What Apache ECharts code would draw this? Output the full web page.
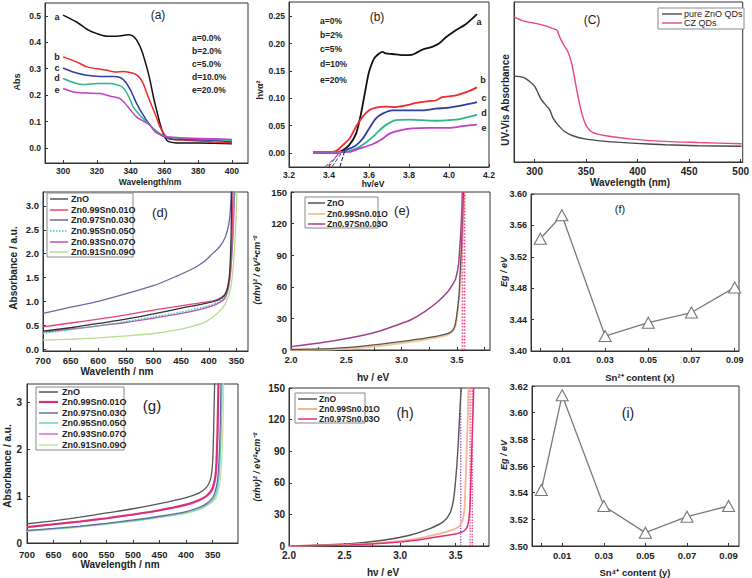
<!DOCTYPE html>
<html><head><meta charset="utf-8">
<script src="https://cdn.jsdelivr.net/npm/echarts@6/dist/echarts.min.js"></script>
<style>html,body{margin:0;padding:0;background:#fff}#c{width:752px;height:578px}</style>
</head><body><div id="c"></div>
<script>
// ---------- Panel (a): Abs vs wavelength (nm) ----------
const aCurveA = [[300,0.503],[308,0.477],[315,0.446],[320,0.433],[326,0.423],[332,0.423],[337,0.428],[339,0.429],[341.6,0.423],[343.6,0.408],[346.5,0.37],[349.5,0.307],[351.5,0.256],[353.5,0.193],[355.4,0.143],[357.4,0.092],[359.4,0.054],[361.4,0.029],[363,0.023],[367,0.019],[381,0.019],[390,0.018],[400,0.016]];
const aCurveB = [[300,0.345],[308,0.326],[314,0.307],[320,0.300],[326,0.294],[331,0.288],[336,0.290],[341,0.284],[344,0.275],[347,0.25],[350,0.2],[352.5,0.16],[355,0.12],[357.4,0.08],[360.4,0.048],[363,0.034],[373,0.029],[389,0.023],[400,0.019]];
const aCurveC = [[300,0.303],[306,0.288],[314,0.275],[322,0.271],[330,0.271],[334,0.266],[337,0.25],[340,0.218],[343.6,0.168],[347.5,0.124],[351.5,0.086],[355.4,0.061],[359.4,0.044],[363,0.035],[373,0.032],[389,0.029],[400,0.023]];
const aCurveD = [[300,0.263],[307,0.246],[312,0.240],[320,0.244],[328,0.244],[333,0.237],[336,0.225],[339,0.193],[341.6,0.155],[345.5,0.124],[349.5,0.098],[353.5,0.073],[357.4,0.054],[361.4,0.042],[367,0.038],[381,0.035],[400,0.029]];
const aCurveE = [[300,0.225],[306,0.212],[314,0.208],[322,0.206],[328,0.196],[333,0.189],[336,0.174],[340,0.143],[343.6,0.117],[347.5,0.102],[351.5,0.086],[354.5,0.061],[357.4,0.051],[361.4,0.042],[371,0.038],[389,0.035],[400,0.032]];
const aXTicks = [300,320,340,360,380,400];
const aYTicks = [0,0.1,0.2,0.3,0.4,0.5];
const aLegend = ['a=0.0%','b=2.0%','c=5.0%','d=10.0%','e=20.0%'];

// ---------- Panel (b): hvα² vs hv (eV) ----------
const bCurveA = [[3.32,0.001],[3.444,0.001],[3.469,0.005],[3.50,0.014],[3.535,0.035],[3.56,0.072],[3.585,0.121],[3.60,0.148],[3.626,0.173],[3.651,0.182],[3.668,0.185],[3.684,0.182],[3.717,0.181],[3.767,0.179],[3.817,0.180],[3.867,0.189],[3.916,0.194],[3.95,0.200],[3.983,0.211],[4.032,0.224],[4.082,0.235],[4.14,0.254]];
const bCurveB = [[3.32,0.002],[3.42,0.002],[3.444,0.006],[3.477,0.017],[3.502,0.026],[3.535,0.048],[3.568,0.066],[3.601,0.078],[3.634,0.083],[3.684,0.085],[3.734,0.084],[3.784,0.087],[3.834,0.0915],[3.90,0.095],[3.933,0.096],[3.966,0.102],[4.03,0.105],[4.099,0.113],[4.14,0.120]];
const bCurveC = [[3.32,0.001],[3.45,0.001],[3.502,0.008],[3.535,0.014],[3.568,0.026],[3.601,0.045],[3.634,0.063],[3.668,0.072],[3.717,0.078],[3.784,0.078],[3.867,0.078],[3.933,0.081],[4.0,0.083],[4.066,0.087],[4.14,0.093]];
const bCurveD = [[3.32,0.001],[3.48,0.002],[3.535,0.008],[3.576,0.017],[3.618,0.029],[3.651,0.041],[3.684,0.051],[3.734,0.060],[3.80,0.061],[3.867,0.060],[3.933,0.059],[4.0,0.060],[4.066,0.063],[4.14,0.070]];
const bCurveE = [[3.32,0.002],[3.50,0.002],[3.552,0.008],[3.618,0.016],[3.668,0.026],[3.70,0.035],[3.75,0.041],[3.817,0.045],[3.90,0.046],[4.0,0.046],[4.066,0.049],[4.14,0.052]];
const bFitA = [[3.455,-0.025],[3.48,0.006]];
const bFitB = [[3.40,-0.025],[3.46,0.006]];
const bFitC = [[3.415,-0.025],[3.47,0.004]];
const bFitD = [[3.39,-0.025],[3.46,0.004]];
const bFitE = [[3.38,-0.025],[3.47,0.004]];
const bXTicks = [3.2,3.4,3.6,3.8,4.0,4.2];
const bYTicks = [0,0.05,0.10,0.15,0.20,0.25];
const bLegend = ['a=0%','b=2%','c=5%','d=10%','e=20%'];

// ---------- Panel (c): UV-Vis absorbance (arb.) ----------
const cPureZnO = [[280,53.7],[289,52.9],[295.5,50.2],[300.3,47.1],[303.5,42.9],[306.7,38.8],[311.5,35.1],[314.7,32.6],[317.9,27.4],[322.7,23.2],[329.1,19.1],[337.1,16.4],[349.9,14.3],[369.1,12.9],[394.7,11.8],[426.7,10.8],[458.7,10.2],[501,9.8]];
const cCZ = [[280,90.7],[289,88.2],[298.7,86.9],[308.3,85.5],[317.9,83.4],[321.7,82.4],[324.3,78.2],[327.5,74.1],[332.3,68.9],[335.5,62.7],[337.7,56.4],[340.3,47.1],[343.5,36.7],[346.7,28.4],[350.5,22.2],[356.3,18.5],[369.1,16.4],[394.7,14.3],[426.7,12.9],[458.7,12.2],[501,11.4]];
const cXTicks = [300,350,400,450,500];
const cNames = ['pure ZnO QDs','CZ QDs'];

// ---------- Panel (d): Absorbance vs wavelength ----------
const dZnO = [[700,0.38],[650,0.45],[600,0.54],[550,0.63],[500,0.74],[450,0.86],[410,0.95],[385,1.02],[370,1.15],[363,1.5],[360,2.2],[358.5,3.3]];
const dS01 = [[700,0.47],[650,0.55],[600,0.63],[550,0.72],[500,0.82],[450,0.91],[410,0.98],[385,1.04],[370,1.17],[363,1.45],[359,2.0],[357,2.8],[356,3.3]];
const dS03 = [[700,0.75],[650,0.88],[600,1.0],[550,1.16],[500,1.33],[460,1.52],[430,1.68],[410,1.82],[395,1.98],[380,2.15],[370,2.35],[364,2.6],[361,2.9],[359.5,3.3]];
const dS05 = [[700,0.33],[650,0.41],[600,0.49],[550,0.58],[500,0.68],[450,0.78],[410,0.88],[385,0.98],[370,1.12],[362,1.5],[357,2.3],[354,3.3]];
const dS07 = [[700,0.36],[650,0.42],[600,0.49],[550,0.56],[500,0.65],[450,0.75],[410,0.85],[385,0.95],[370,1.08],[362,1.45],[357,2.2],[353,3.3]];
const dS09 = [[700,0.19],[650,0.21],[600,0.24],[550,0.28],[500,0.33],[460,0.40],[430,0.48],[405,0.58],[385,0.75],[370,0.95],[360,1.3],[354,2.0],[350.5,2.8],[349,3.3]];
const dXTicks = [350,400,450,500,550,600,650,700];
const dYTicks = [0,0.5,1.0,1.5,2.0,2.5,3.0];
const sampleNames = ['ZnO','Zn0.99Sn0.01O','Zn0.97Sn0.03O','Zn0.95Sn0.05O','Zn0.93Sn0.07O','Zn0.91Sn0.09O'];

// ---------- Panel (e): (αhν)² vs hν ----------
const eZnO = [[2.0,0.6],[2.39,1.6],[2.69,4.1],[2.99,7.9],[3.24,11.7],[3.39,14.9],[3.45,17.4],[3.48,22.2],[3.50,33.3],[3.52,52.3],[3.53,74.5],[3.54,93.5],[3.55,119],[3.56,150]];
const eS01 = [[2.0,0.2],[2.39,0.6],[2.69,2.5],[2.99,6.3],[3.24,10.5],[3.39,13.6],[3.46,17.4],[3.49,23.8],[3.51,39.6],[3.53,61.8],[3.545,93.5],[3.56,125],[3.57,150]];
const eS03 = [[2.0,3.2],[2.24,6.3],[2.54,11.7],[2.78,17.4],[2.96,23.8],[3.08,28.5],[3.21,36.5],[3.33,46],[3.42,55.5],[3.46,61.8],[3.49,68],[3.515,80.8],[3.525,95],[3.535,110],[3.545,131.6],[3.55,150]];
const eFit1 = [[3.55,0],[3.55,150]];
const eFit2 = [[3.57,0],[3.57,150]];
const eXTicks = [2.0,2.5,3.0,3.5];
const eMinorTicks = [2.0,2.25,2.5,2.75,3.0,3.25,3.5,3.75];
const eYTicks = [0,30,60,90,120,150];

// ---------- Panel (f): Eg vs Sn2+ content ----------
const fContent = [0,0.01,0.03,0.05,0.07,0.09];
const fEg = [3.543,3.573,3.419,3.436,3.449,3.481];
const fXLabels = [0.01,0.03,0.05,0.07,0.09];
const fYTicks = [3.40,3.44,3.48,3.52,3.56,3.60];

// ---------- Panel (g): Absorbance vs wavelength ----------
const gZnO = [[700,0.41],[650,0.47],[600,0.55],[550,0.64],[500,0.73],[450,0.84],[400,0.97],[375,1.07],[362,1.18],[354,1.35],[350,1.7],[348,2.4],[346,3.44]];
const gS01 = [[700,0.34],[650,0.40],[600,0.46],[550,0.53],[500,0.61],[450,0.70],[400,0.82],[375,0.92],[360,1.02],[350,1.17],[344,1.5],[341,2.3],[339,3.44]];
const gS03 = [[700,0.27],[650,0.31],[600,0.36],[550,0.42],[500,0.49],[450,0.57],[400,0.67],[375,0.76],[360,0.85],[348,1.0],[340,1.4],[336,2.3],[334,3.44]];
const gS05 = [[700,0.26],[650,0.30],[600,0.35],[550,0.41],[500,0.47],[450,0.55],[400,0.65],[375,0.73],[360,0.82],[346,0.97],[338,1.4],[334,2.3],[332,3.44]];
const gS07 = [[700,0.33],[650,0.39],[600,0.45],[550,0.52],[500,0.60],[450,0.69],[400,0.80],[375,0.90],[360,1.0],[350,1.13],[343,1.5],[340,2.3],[338,3.44]];
const gS09 = [[700,0.25],[650,0.29],[600,0.34],[550,0.40],[500,0.46],[450,0.54],[400,0.63],[375,0.71],[360,0.80],[344,0.95],[335,1.4],[331,2.3],[329,3.44]];
const gXTicks = [350,400,450,500,550,600,650,700];
const gYTicks = [0,1,2,3];

// ---------- Panel (h): (αhν)² vs hν ----------
const hZnO = [[2.0,0],[2.547,2.2],[2.847,5.4],[3.087,10.2],[3.267,16.5],[3.387,22.9],[3.447,30.8],[3.48,43.5],[3.505,69],[3.525,100.7],[3.54,132.5],[3.55,150]];
const hS01 = [[2.0,0],[2.547,1.3],[2.847,3.2],[3.087,6.0],[3.327,11.1],[3.477,15.6],[3.54,19.7],[3.575,30.8],[3.59,62.6],[3.60,94.4],[3.61,126.2],[3.615,150]];
const hS03 = [[2.0,0],[2.547,1],[2.847,2.5],[3.087,4.8],[3.327,8.6],[3.508,11.7],[3.583,14.9],[3.613,21.3],[3.628,37.2],[3.637,62.6],[3.646,94.4],[3.656,126.2],[3.662,150]];
const hFit1 = [[3.545,0],[3.545,150]];
const hFit2 = [[3.63,0],[3.63,150]];
const hFit3 = [[3.65,0],[3.65,150]];

// ---------- Panel (i): Eg vs Sn4+ content ----------
const iContent = [0,0.01,0.03,0.05,0.07,0.09];
const iEg = [3.542,3.613,3.530,3.510,3.522,3.530];
const iYTicks = [3.50,3.52,3.54,3.56,3.58,3.60,3.62];

// ================= layout & styles =================
const FONT = '"Liberation Sans", Arial, sans-serif';
const AX = '#333';
const grids = [
  [45,3,203,160],   // a
  [289,2,200,165],  // b
  [514,2,231,160],  // c
  [43,192,205,159], // d
  [291,192,199,158],// e
  [531,194,208,157],// f
  [27,384,211,159], // g
  [289,388,200,158],// h
  [532,386,207,160] // i
].map(g => ({left:g[0],top:g[1],width:g[2],height:g[3],show:true,borderColor:AX,borderWidth:1,backgroundColor:'transparent'}));

function axis(gi, min, max, labels, ticks, dec, extra) {
  const o = {
    type:'value', gridIndex:gi, min:min, max:max, scale:true,
    splitLine:{show:false},
    axisLine:{show:true,onZero:false,lineStyle:{color:AX,width:1}},
    axisTick:{show:true,inside:true,length:3,customValues:ticks,lineStyle:{color:AX}},
    axisLabel:{show:labels!==null,customValues:labels||[],formatter:v=>Number(v).toFixed(dec),
      fontFamily:FONT,fontWeight:'bold',fontSize:9,color:'#222',margin:4}
  };
  if (extra) {
    if (extra.inverse) o.inverse = true;
    if (extra.fontSize) o.axisLabel.fontSize = extra.fontSize;
    if (extra.margin) o.axisLabel.margin = extra.margin;
    if (extra.noTick) o.axisTick.show = false;
  }
  return o;
}

const xAxes = [
  axis(0,289.3,409.5,aXTicks,aXTicks,0,{margin:3,fontSize:8.5}),
  axis(1,3.2,4.2,bXTicks,bXTicks,1,{margin:3,fontSize:8.5}),
  axis(2,280,502,cXTicks,cXTicks,0,{fontSize:10}),
  axis(3,329,700,dXTicks,dXTicks,0,{inverse:true,fontSize:9.5}),
  axis(4,2.0,3.8,eXTicks,eMinorTicks,1,{fontSize:9.5}),
  axis(5,-0.0043,0.092,fXLabels,fContent,2),
  axis(6,302,700,gXTicks,gXTicks,0,{inverse:true,fontSize:9.5,margin:6}),
  axis(7,2.0,3.8,eXTicks,eMinorTicks,1,{fontSize:10}),
  axis(8,-0.0045,0.095,fXLabels,iContent,2,{fontSize:9.5})
];
const yAxes = [
  axis(0,-0.057,0.549,aYTicks,aYTicks,1,{fontSize:8.5}),
  axis(1,-0.0255,0.276,bYTicks,bYTicks,2,{fontSize:8.5}),
  axis(2,0,100,null,[],0,{noTick:true}),
  axis(3,-0.036,3.29,dYTicks,dYTicks,1,{fontSize:9.5}),
  axis(4,0,150,eYTicks,eYTicks,0,{fontSize:9.5}),
  axis(5,3.40,3.60,fYTicks,fYTicks,2),
  axis(6,0,3.39,gYTicks,gYTicks,0,{fontSize:10,margin:5}),
  axis(7,0,150,eYTicks,eYTicks,0,{fontSize:10}),
  axis(8,3.50,3.62,iYTicks,iYTicks,2,{fontSize:9.5})
];

function line(name, data, gi, color, width, extra) {
  const s = {type:'line', name:name, data:data, xAxisIndex:gi, yAxisIndex:gi,
    symbol:'none', smooth:0.25, silent:true, animation:false,
    lineStyle:{color:color,width:width}, itemStyle:{color:color}};
  if (extra) {
    if (extra.type) s.lineStyle.type = extra.type;
    if (extra.smooth !== undefined) s.smooth = extra.smooth;
    if (extra.z) s.z = extra.z;
  }
  return s;
}
function eg(name, xs, ys, gi) {
  return {type:'line', name:name, xAxisIndex:gi, yAxisIndex:gi, animation:false, silent:true,
    data: xs.map((x,i)=>[x,ys[i]]), symbol:'triangle', symbolSize:[12,11], showSymbol:true,
    lineStyle:{color:'#7a7a7a',width:1.3},
    itemStyle:{color:'#fff',borderColor:'#777',borderWidth:1.1}};
}

const colA = ['#111111','#f02a2a','#2f3ea0','#2fb58e','#c23fc8'];
const colD = ['#555555','#e8407a','#6868a6','#3fd0a8','#c24cb4','#b8dc8c'];
const colG = ['#555555','#d8307a','#6a6aaa','#5fd8b8','#d870c8','#c8e0a0'];

const series = [
  line('a',aCurveA,0,colA[0],1.5), line('b',aCurveB,0,colA[1],1.5), line('c',aCurveC,0,colA[2],1.5),
  line('d',aCurveD,0,colA[3],1.5), line('e',aCurveE,0,colA[4],1.5),
  line('a',bCurveA,1,colA[0],1.8), line('b',bCurveB,1,colA[1],1.8), line('c',bCurveC,1,colA[2],1.8),
  line('d',bCurveD,1,colA[3],1.8), line('e',bCurveE,1,colA[4],1.8),
  line('fit a',bFitA,1,colA[0],1,{type:'dashed',smooth:false}), line('fit b',bFitB,1,colA[1],1,{type:'dashed',smooth:false}),
  line('fit c',bFitC,1,colA[2],1,{type:'dashed',smooth:false}), line('fit d',bFitD,1,colA[3],1,{type:'dashed',smooth:false}),
  line('fit e',bFitE,1,colA[4],1,{type:'dashed',smooth:false}),
  line(cNames[0],cPureZnO,2,'#4a4a4a',1.4), line(cNames[1],cCZ,2,'#e8487a',1.4),
  line(sampleNames[2],dS03,3,colD[2],1.3), line(sampleNames[5],dS09,3,colD[5],1.3),
  line(sampleNames[4],dS07,3,colD[4],1.3), line(sampleNames[3],dS05,3,colD[3],1.5,{type:'dotted'}),
  line(sampleNames[1],dS01,3,colD[1],1.3), line(sampleNames[0],dZnO,3,'#333',1.3),
  line(sampleNames[1],eS01,4,'#f2c89a',2), line(sampleNames[0],eZnO,4,'#555',1.3),
  line(sampleNames[2],eS03,4,'#a0408f',1.5),
  line('fit',eFit1,4,'#f04a88',1.6,{type:'dotted',smooth:false}), line('fit',eFit2,4,'#f04a88',1.6,{type:'dotted',smooth:false}),
  eg('Eg',fContent,fEg,5),
  line(sampleNames[5],gS09,6,colG[5],1.3), line(sampleNames[3],gS05,6,colG[3],1.3),
  line(sampleNames[2],gS03,6,colG[2],1.3), line(sampleNames[4],gS07,6,colG[4],1.3),
  line(sampleNames[1],gS01,6,colG[1],2), line(sampleNames[0],gZnO,6,'#555',1.3),
  line('fit',hFit1,7,'#a050c0',1.4,{type:'dotted',smooth:false}),
  line('fit',hFit2,7,'#f04a88',1.4,{type:'dotted',smooth:false}), line('fit',hFit3,7,'#f04a88',1.4,{type:'dotted',smooth:false}),
  line(sampleNames[0],hZnO,7,'#555',1.4), line(sampleNames[1],hS01,7,'#f2b890',1.8),
  line(sampleNames[2],hS03,7,'#e0307a',1.5),
  eg('Eg',iContent,iEg,8)
];

// ---------- text & legend graphics ----------
const G = [];
function txt(s, x, y, size, opt) {
  opt = opt || {};
  G.push({type:'text', x:x, y:y, rotation:opt.rot?Math.PI/2:0, silent:true,
    style:{text:s, fill:opt.color||'#222', font:(opt.italic?'italic ':'')+(opt.bold===false?'':'bold ')+size+'px '+FONT,
      textAlign:opt.align||'center', textVerticalAlign:'middle'}});
}
function legendBox(x0,y0,w,h,names,colors,ys,lx0,lx1,tx,size,types,widths,bold) {
  G.push({type:'rect', shape:{x:x0,y:y0,width:w,height:h}, silent:true, style:{fill:'#fff',stroke:'#888',lineWidth:1}, z:10});
  names.forEach((n,i)=>{
    G.push({type:'line', shape:{x1:lx0,y1:ys[i],x2:lx1,y2:ys[i]}, silent:true, z:11,
      style:{stroke:colors[i], lineWidth:(widths&&widths[i])||1.5, lineDash:(types&&types[i]==='dotted')?[1.5,1.5]:null}});
    G.push({type:'text', x:tx, y:ys[i], silent:true, z:11, style:{text:n, fill:'#222',
      font:(bold===false?'':'bold ')+size+'px '+FONT, textAlign:'left', textVerticalAlign:'middle'}});
  });
}

// (a)
txt('(a)',158,15,12,{bold:false});
aLegend.forEach((s,i)=>txt(s,192,38+i*13,8.5,{align:'left'}));
['a','b','c','d','e'].forEach((s,i)=>txt(s,57,[17,57,68,78,90][i],9));
txt('Abs',17,82,9,{rot:true});
txt('Wavelength/nm',150,181.5,8.5);
// (b)
txt('(b)',377,17,12,{bold:false});
bLegend.forEach((s,i)=>txt(s,320,[21,35,49,64,80][i],8.5,{align:'left'}));
['a','b','c','d','e'].forEach((s,i)=>txt(s,[479,483,484,484,484][i],[22,80,98,113,128][i],9));
txt('hvα²',260,90,9,{rot:true});
txt('hv/eV',373,184,8.5);
// (c)
txt('(C)',592,20,12,{bold:false});
txt('UV-Vis Absorbance',505,100,10,{rot:true});
txt('Wavelength (nm)',630,182,10);
legendBox(658,8,86,21,cNames,['#4a4a4a','#e8487a'],[14,23],662,682,684,9,null,[1.4,1.4],false);
// (d)
txt('(d)',160,212,13,{bold:false});
txt('Absorbance / a.u.',13,268,10,{rot:true});
txt('Wavelenth / nm',117,371,10);
legendBox(47,193,86,64,sampleNames,['#555',colD[1],colD[2],colD[3],colD[4],colD[5]],[199,210,220,231,242,252],50,68,71,9,[null,null,null,'dotted',null,null]);
// (e)
txt('(e)',402,210,13,{bold:false});
txt('(αhν)² / eV²•cm⁻²',257,270,9,{rot:true,italic:true});
txt('hν / eV',373,377,10);
legendBox(305,197,73,31,sampleNames.slice(0,3),['#555','#f2c89a','#a0408f'],[203,214,224],308,325,327,8.5,null,[1.5,2,1.5]);
// (f)
txt('(f)',620,209,11,{bold:false});
txt('Eg / eV',504,272,9,{rot:true,italic:true});
txt('Sn²⁺ content (x)',640,377,9.5);
// (g)
txt('(g)',152,405,15,{bold:false});
txt('Absorbance / a.u.',7,466,10,{rot:true});
txt('Wavelength / nm',120,564,10);
legendBox(36,387,88,63,sampleNames,['#555',colG[1],colG[2],colG[3],colG[4],colG[5]],[392,402,413,423,434,445],39,58,62,9,null,[1.5,2.2,1.5,1.5,1.5,1.5]);
// (h)
txt('(h)',405,413,14,{bold:false});
txt('(αhν)² / eV²•cm⁻²',257,467,9,{rot:true,italic:true});
txt('hν / eV',383,572,10);
legendBox(295,393,70,30,sampleNames.slice(0,3),['#555','#f2b890','#e0307a'],[399,409,419],298,317,319,8.5,null,[1.5,2,1.5]);
// (i)
txt('(i)',628,413,14,{bold:false});
txt('Eg / eV',504,455,9,{rot:true,italic:true});
txt('Sn⁴⁺ content (y)',635,572,9.5);

const chart = echarts.init(document.getElementById('c'), null, {renderer:'svg', width:752, height:578});
chart.setOption({
  backgroundColor:'#fff', animation:false,
  grid:grids, xAxis:xAxes, yAxis:yAxes, series:series, graphic:G
});
</script></body></html>
